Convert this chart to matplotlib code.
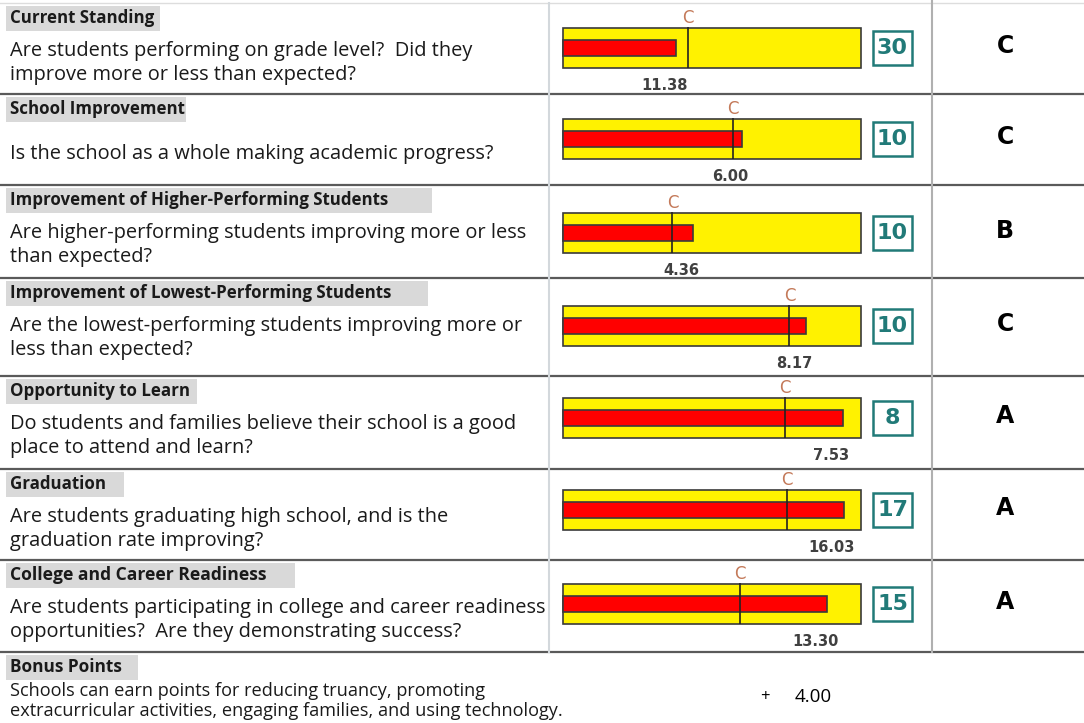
import matplotlib
matplotlib.use("Agg")
import matplotlib.pyplot as plt
from matplotlib.patches import Rectangle
from matplotlib import font_manager

# ---- data ----
categories = ['Current Standing', 'School Improvement',
              'Improvement of Higher-Performing Students',
              'Improvement of Lowest-Performing Students',
              'Opportunity to Learn', 'Graduation',
              'College and Career Readiness']
questions = ['Are students performing on grade level?  Did they\nimprove more or less than expected?',
             'Is the school as a whole making academic progress?',
             'Are higher-performing students improving more or less\nthan expected?',
             'Are the lowest-performing students improving more or\nless than expected?',
             'Do students and families believe their school is a good\nplace to attend and learn?',
             'Are students graduating high school, and is the\ngraduation rate improving?',
             'Are students participating in college and career readiness\nopportunities?  Are they demonstrating success?']
max_points = [30, 10, 10, 10, 8, 17, 15]
scores = [11.38, 6.00, 4.36, 8.17, 7.53, 16.03, 13.30]
c_cutoffs = [12.6, 5.7, 3.67, 7.6, 5.95, 12.8, 8.9]
grades = ['C', 'C', 'B', 'C', 'A', 'A', 'A']
bonus_title = 'Bonus Points'
bonus_text = 'Schools can earn points for reducing truancy, promoting\nextracurricular activities, engaging families, and using technology.'
bonus_points = 4.00

# ---- layout (pixels) ----
W, H = 1084, 723
row_tops = [3, 94, 185, 278, 376, 469, 560]
bonus_top = 652
bar_tops = [27, 118, 212, 305, 397, 489, 583]
bar_h = 42
bar_x0, bar_w = 562, 300
head_w = [160, 186, 432, 428, 197, 124, 295]
head_size = [12.2, 12.2, 12.2, 12.2, 12.2, 12.2, 12.6]
bonus_head_w = 138

names = {f.name for f in font_manager.fontManager.ttflist}
body = 'Open Sans' if 'Open Sans' in names else 'DejaVu Sans'

YELLOW = '#fff200'
RED = '#ff0000'
TEAL = '#217a78'
CCOL = '#c47a5a'
LINE = '#5a5a5a'

fig = plt.figure(figsize=(W / 100, H / 100), dpi=100)
bg = fig.add_axes([0, 0, 1, 1])
bg.set_xlim(0, W)
bg.set_ylim(H, 0)
bg.axis('off')

# grid lines
bg.plot([0, W], [row_tops[0], row_tops[0]], color='#dddddd', lw=1)
for y in row_tops[1:] + [bonus_top]:
    bg.plot([0, W], [y, y], color=LINE, lw=1.6)
bg.plot([549, 549], [row_tops[0], bonus_top], color='#d3d8dc', lw=1.5)
bg.plot([932, 932], [0, bonus_top], color='#b0b0b0', lw=1.5)

for i, cat in enumerate(categories):
    top = row_tops[i]
    bg.add_patch(Rectangle((6, top + 3), head_w[i] - 6, 25, color='#d9d9d9', lw=0))
    bg.text(10, top + 15, cat, fontsize=head_size[i], fontweight='bold', family=body,
            va='center', ha='left', color='#1a1a1a')
    bg.text(10, top + 60, questions[i], fontsize=14.4, family=body,
            va='center', ha='left', color='#1a1a1a', linespacing=1.26)

    # bullet bar
    bt = bar_tops[i]
    ax = fig.add_axes([bar_x0 / W, 1 - (bt + bar_h) / H, bar_w / W, bar_h / H])
    mx = max_points[i]
    ax.barh(0.5, mx, height=1.0, color=YELLOW, edgecolor='#3a3a3a', lw=1.2)
    ax.barh(0.5, scores[i], height=0.4, color=RED, edgecolor='#3a3a3a', lw=1.2)
    ax.vlines(c_cutoffs[i], 0, 1.03, color='#222222', lw=1.2, clip_on=False)
    ax.annotate('C', (c_cutoffs[i], 1.0), xytext=(0, 1), textcoords='offset pixels',
                fontsize=12, color=CCOL, ha='center', va='bottom', family='DejaVu Sans')
    ax.annotate(f'{scores[i]:.2f}', (scores[i], 0), xytext=(-12, -17),
                textcoords='offset pixels', ha='center', va='center',
                fontsize=10.5, fontweight='bold', color='#404040', family='DejaVu Sans')
    ax.set_xlim(-mx * 0.004, mx * 1.004)
    ax.set_ylim(-0.02, 1.02)
    ax.axis('off')

    # max points box and grade
    cy = bt + bar_h / 2
    bg.add_patch(Rectangle((873, cy - 17), 39, 34, fill=False, edgecolor=TEAL, lw=1.8))
    bg.text(892.5, cy, str(mx), fontsize=16, fontweight='bold', family='DejaVu Sans',
            color=TEAL, ha='center', va='center')
    bg.text(1005, cy - 2, grades[i], fontsize=17, fontweight='bold', family='DejaVu Sans',
            color='black', ha='center', va='center')

# bonus row
bg.add_patch(Rectangle((6, bonus_top + 3), bonus_head_w - 6, 25, color='#d9d9d9', lw=0))
bg.text(10, bonus_top + 15, bonus_title, fontsize=12.4, fontweight='bold', family=body,
        va='center', ha='left', color='#1a1a1a')
bg.text(10, bonus_top + 49, bonus_text, fontsize=13.1, family=body,
        va='center', ha='left', color='#1a1a1a', linespacing=1.2)
bg.text(765, bonus_top + 45, '+', fontsize=12, family=body, ha='center', va='center')
bg.text(795, bonus_top + 45, f'{bonus_points:.2f}', fontsize=13.5, family=body,
        ha='left', va='center')

fig.savefig('out.png', dpi=100)
